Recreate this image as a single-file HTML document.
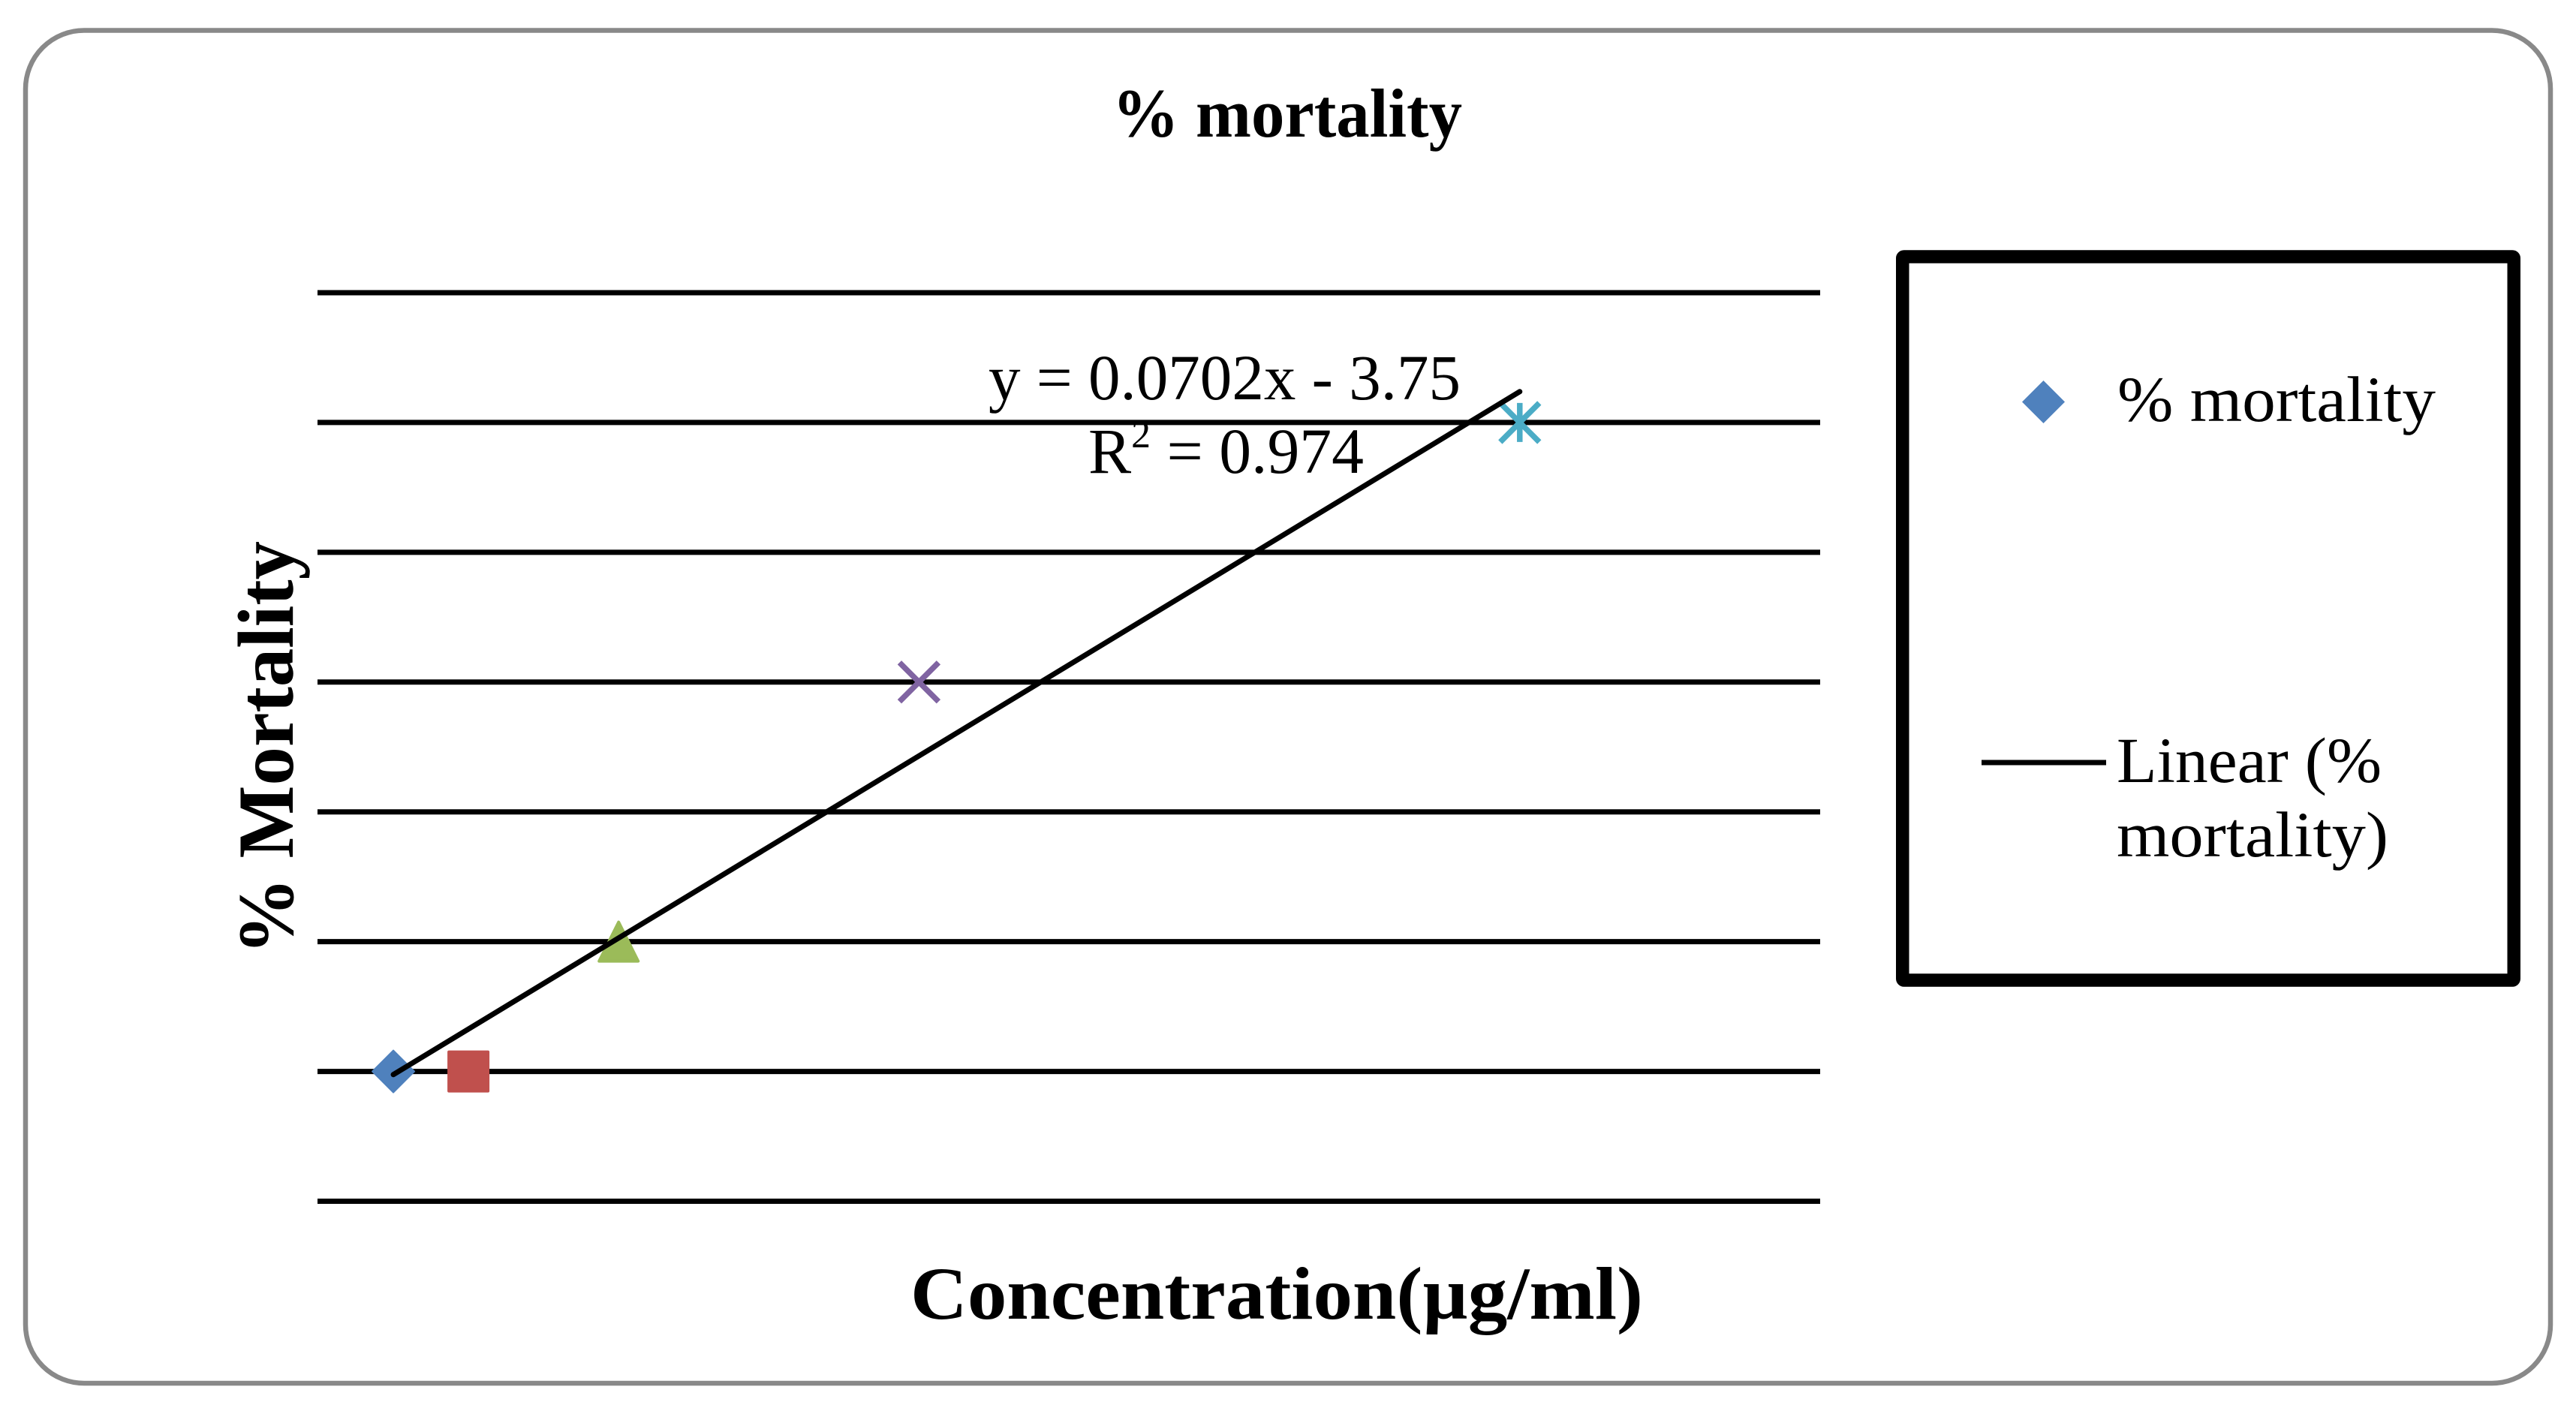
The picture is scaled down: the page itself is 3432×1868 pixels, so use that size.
<!DOCTYPE html>
<html lang="en">
<head>
<meta charset="utf-8">
<title>% mortality</title>
<style>
html,body{margin:0;padding:0;background:#fff;}
svg{display:block;}
text{font-family:"Liberation Serif","DejaVu Serif",serif;fill:#000;}
</style>
</head>
<body>
<svg id="chart" xmlns="http://www.w3.org/2000/svg" width="3432" height="1868" viewBox="0 0 3432 1868">
  <rect x="34" y="40.5" width="3364" height="1802.5" rx="78" ry="78" fill="#fff" stroke="#898989" stroke-width="6.5"/>
  <g id="grid"></g>
  <g id="marks"></g>
  <g id="trend"></g>

  <text x="1482" y="182" font-size="92" font-weight="700" textLength="466" lengthAdjust="spacingAndGlyphs">% mortality</text>
  <text transform="translate(390 1272) rotate(-90)" font-size="106" font-weight="700" textLength="551" lengthAdjust="spacingAndGlyphs">% Mortality</text>
  <text x="1213" y="1757" font-size="100" font-weight="700" textLength="976" lengthAdjust="spacingAndGlyphs">Concentration(µg/ml)</text>
  <text x="1317" y="532" font-size="86" textLength="629" lengthAdjust="spacingAndGlyphs">y = 0.0702x - 3.75</text>
  <text x="1450" y="630" font-size="86" textLength="367" lengthAdjust="spacingAndGlyphs">R<tspan font-size="52" dy="-34">2</tspan><tspan dy="34"> = 0.974</tspan></text>

  <g>
    <rect x="2534.75" y="342" width="814.5" height="964" rx="2" fill="none" stroke="#000" stroke-width="17.5" stroke-linejoin="round"/>
    <polygon points="2722.5,507 2751,535.5 2722.5,564 2694,535.5" fill="#4F81BD"/>
    <text x="2821" y="561" font-size="86" textLength="424" lengthAdjust="spacingAndGlyphs">% mortality</text>
    <line x1="2640" y1="1016" x2="2806" y2="1016" stroke="#000" stroke-width="7"/>
    <text x="2820" y="1042" font-size="86" textLength="353" lengthAdjust="spacingAndGlyphs">Linear (%</text>
    <text x="2820" y="1141" font-size="86" textLength="362" lengthAdjust="spacingAndGlyphs">mortality)</text>
  </g>
</svg>
<script>
const concentrations = [100, 200, 400, 800, 1600];
const mortality = [0, 0, 20, 60, 100];
const markerShapes = ['diamond', 'square', 'triangle', 'cross', 'asterisk'];
const markerColors = ['#4F81BD', '#C0504D', '#9BBB59', '#8064A2', '#4BACC6'];
const yTicks = [-20, 0, 20, 40, 60, 80, 100, 120];
const xDomain = [0, 2000];
const yDomain = [-20, 120];

const NS = 'http://www.w3.org/2000/svg';
const plot = { left: 423, right: 2425, top: 390, bottom: 1600.5 };
function xScale(v) {
  return 424 + (v - xDomain[0]) / (xDomain[1] - xDomain[0]) * 2001;
}
function yScale(v) {
  return plot.bottom - (v - yDomain[0]) / (yDomain[1] - yDomain[0]) * (plot.bottom - plot.top);
}
function make(tag, attrs) {
  const el = document.createElementNS(NS, tag);
  for (const k in attrs) el.setAttribute(k, attrs[k]);
  return el;
}

const gridLayer = document.getElementById('grid');
yTicks.forEach(function (t) {
  const line = make('line', { x1: plot.left, x2: plot.right, y1: yScale(t), y2: yScale(t), stroke: '#000', 'stroke-width': 7 });
  
  
  gridLayer.appendChild(line);
});

const markLayer = document.getElementById('marks');
const R = 28;
concentrations.forEach(function (c, i) {
  const cx = xScale(c);
  const cy = yScale(mortality[i]);
  const color = markerColors[i];
  const shape = markerShapes[i];
  let el;
  if (shape === 'diamond') {
    el = make('polygon', { points: [[cx, cy - R], [cx + R, cy], [cx, cy + R], [cx - R, cy]].join(' '), fill: color, stroke: color, 'stroke-width': 2, 'stroke-linejoin': 'round' });
  } else if (shape === 'square') {
    el = make('rect', { x: cx - R + 2, y: cy - R + 2, width: 2 * R - 4, height: 2 * R - 4, fill: color, stroke: color, 'stroke-width': 4, 'stroke-linejoin': 'round' });
  } else if (shape === 'triangle') {
    el = make('polygon', { points: [[cx, cy - R + 2], [cx + R - 2, cy + R - 2], [cx - R + 2, cy + R - 2]].join(' '), fill: color, stroke: color, 'stroke-width': 4, 'stroke-linejoin': 'round' });
  } else {
    const r = R - 2;
    let d = 'M' + (cx - r) + ' ' + (cy - r) + 'L' + (cx + r) + ' ' + (cy + r) + 'M' + (cx - r) + ' ' + (cy + r) + 'L' + (cx + r) + ' ' + (cy - r);
    if (shape === 'asterisk') d += 'M' + cx + ' ' + (cy - r) + 'L' + cx + ' ' + (cy + r);
    el = make('path', { d: d, fill: 'none', stroke: color, 'stroke-width': 7.5 });
  }
  
  
  markLayer.appendChild(el);
});

const n = concentrations.length;
const meanX = concentrations.reduce(function (a, b) { return a + b; }, 0) / n;
const meanY = mortality.reduce(function (a, b) { return a + b; }, 0) / n;
let sxy = 0;
let sxx = 0;
concentrations.forEach(function (c, i) {
  sxy += (c - meanX) * (mortality[i] - meanY);
  sxx += (c - meanX) * (c - meanX);
});
const slope = sxy / sxx;
const intercept = meanY - slope * meanX;
const xMin = Math.min.apply(null, concentrations);
const xMax = Math.max.apply(null, concentrations);
const trendLine = make('line', {
  x1: xScale(xMin), y1: yScale(slope * xMin + intercept),
  x2: xScale(xMax), y2: yScale(slope * xMax + intercept),
  stroke: '#000', 'stroke-width': 7, 'stroke-linecap': 'round'
});


document.getElementById('trend').appendChild(trendLine);
</script>
</body>
</html>
